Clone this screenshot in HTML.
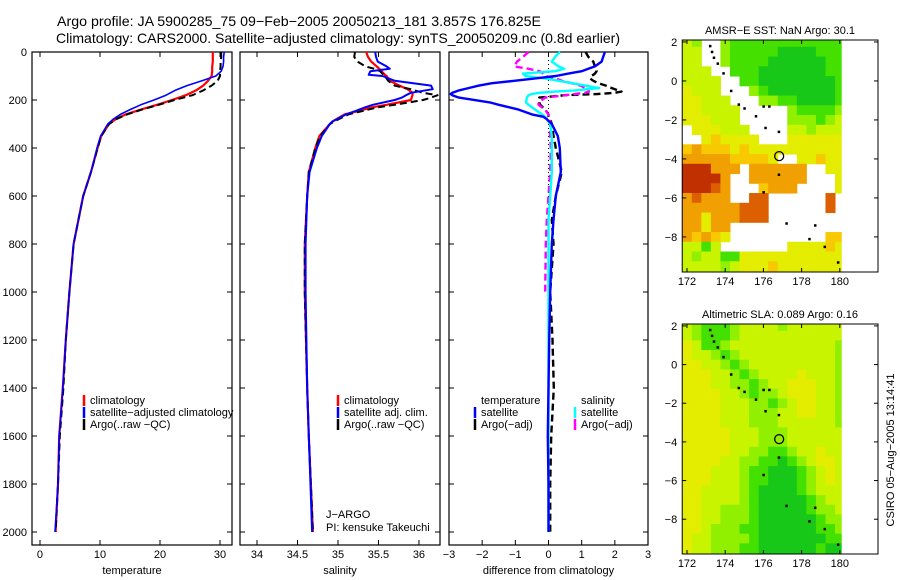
<!DOCTYPE html>
<html><head><meta charset="utf-8">
<style>
html,body{margin:0;padding:0;background:#fff;}
svg{display:block;font-family:"Liberation Sans",sans-serif;}
</style></head>
<body>
<svg id="chart" width="900" height="580" viewBox="0 0 900 580" xmlns="http://www.w3.org/2000/svg">
<rect x="0" y="0" width="900" height="580" fill="#fff"/>
<text x="57" y="26" font-size="14" textLength="484" lengthAdjust="spacingAndGlyphs">Argo profile: JA 5900285_75 09−Feb−2005 20050213_181 3.857S 176.825E</text>
<text x="56" y="43" font-size="14" textLength="564" lengthAdjust="spacingAndGlyphs">Climatology: CARS2000. Satellite−adjusted climatology: synTS_20050209.nc (0.8d earlier)</text>
<g id="panels"></g>
<g id="maps"></g>
<text transform="translate(894,450) rotate(-90)" font-size="11" text-anchor="middle">CSIRO 05−Aug−2005 13:14:41</text>
</svg>
<script>
// ---------- profile data ----------
const depthT = [0,20,40,60,80,100,120,140,160,180,200,220,240,260,280,300,350,400,500,600,700,800,1000,1200,1400,1600,1800,2000];
const tempClim = [28.8,28.8,28.8,28.7,28.7,28.6,28.0,27.2,26.0,24.3,22.0,19.5,16.8,14.3,12.6,11.5,10.2,9.6,8.5,7.2,6.4,5.6,4.9,4.3,3.8,3.2,3.0,2.6];
const tempSat  = [30.7,30.6,30.6,30.5,30.2,29.3,27.0,24.5,22.5,21.0,19.0,16.8,15.0,13.4,12.2,11.3,10.1,9.5,8.5,7.2,6.4,5.6,4.9,4.3,3.8,3.2,3.0,2.5];
const tempArgo = [30.2,30.2,30.1,30.1,30.0,30.0,29.6,28.6,27.2,25.4,22.4,19.8,17.0,14.5,12.7,11.5,10.2,9.6,8.5,7.2,6.4,5.6,4.9,4.3,3.9,3.3,3.0,2.6];

const depthS = [0,20,40,60,70,80,95,100,120,140,155,170,180,190,200,220,230,250,260,290,300,350,400,500,600,800,1000,1400,1600,2000];
const salClim = [35.35,35.37,35.41,35.48,35.51,35.54,35.58,35.6,35.64,35.76,35.86,35.92,35.92,35.91,35.9,35.6,35.43,35.2,35.08,34.93,34.9,34.77,34.72,34.64,34.62,34.59,34.59,34.62,34.64,34.69];
const salSat  = [35.46,35.47,35.49,35.6,35.64,35.4,35.38,35.55,35.7,36.15,36.17,35.9,35.84,35.79,35.7,35.43,35.34,35.18,35.1,34.93,34.9,34.8,34.74,34.65,34.62,34.6,34.6,34.62,34.64,34.68];
const salArgo = [35.21,35.2,35.24,35.34,35.45,35.52,35.56,35.58,35.62,35.7,35.9,36.05,36.23,36.15,36.05,35.7,35.5,35.25,35.13,34.95,34.9,34.78,34.72,34.64,34.62,34.59,34.59,34.62,34.64,34.69];

const depthD = [0,20,40,60,70,80,90,100,110,120,130,140,150,160,165,170,175,180,190,210,220,240,260,270,280,300,350,400,500,600,700,800,1000,1200,1400,1600,1800,2000];
const dTsat  = [1.7,1.65,1.6,1.4,1.2,1.0,0.6,0.22,-0.4,-1.03,-1.7,-2.1,-2.4,-2.7,-2.8,-2.9,-2.95,-2.9,-2.7,-1.77,-1.5,-0.9,-0.5,-0.15,-0.05,0.1,0.28,0.34,0.37,0.22,0.15,0.1,0.05,0.02,0.0,-0.02,0.0,0.0];
const dTargo = [1.12,1.2,1.35,1.4,1.42,1.45,1.4,1.3,1.25,1.35,1.5,1.73,1.9,2.1,2.2,2.0,1.48,0.5,-0.28,-0.28,-0.25,-0.1,0.0,0.0,0.05,0.1,0.15,0.22,0.4,0.22,0.1,0.15,0.05,0.12,0.16,0.08,0.05,0.05];
const dSsat  = [0.35,0.2,0.1,0.3,0.47,0.2,-0.77,-0.7,-0.1,0.3,0.72,1.1,1.53,0.8,0.2,-0.27,-0.5,-0.6,-0.65,-0.68,-0.6,-0.4,-0.2,-0.1,-0.05,0.05,0.1,0.1,0.1,0.05,0.0,0.0,0.0,0.0,0.0,0.0,0.0,0.0];
const dSargo = [-0.6,-0.77,-0.95,-1.03,-0.6,-0.27,-0.15,-0.1,0.22,0.4,0.7,0.97,1.1,1.2,1.22,1.1,0.8,0.5,-0.1,-0.3,-0.3,-0.1,0.0,0.0,0.05,0.05,0.05,0.07,0.05,0.0,-0.05,-0.08,-0.1,null,null,null,null,null];

const depthTicks = [0,200,400,600,800,1000,1200,1400,1600,1800,2000];
const tempTicks = [0,10,20,30];
const salTicks = [34,34.5,35,35.5,36];
const salTickLabels = ["34","34.5","35","35.5","36"];
const diffTicks = [-3,-2,-1,0,1,2,3];
const diffTickLabels = ["−3","−2","−1","0","1","2","3"];

// ---------- map data (0.5 deg cells, rows lat 2.0 → -9.5, cols lon 172.0 → 180.0) ----------
const mapLats = [2,1.5,1,0.5,0,-0.5,-1,-1.5,-2,-2.5,-3,-3.5,-4,-4.5,-5,-5.5,-6,-6.5,-7,-7.5,-8,-8.5,-9,-9.5];
const mapLons = [172,172.5,173,173.5,174,174.5,175,175.5,176,176.5,177,177.5,178,178.5,179,179.5,180];
const sstRows = [
"yl  lGGGGGGGGGGGG","yy  lGGGGGDDDDGGG","yy  lGGGGDDDDDDGG","yyy  GGGDDDDDDDGG",
"yyyy  GGDDDDDDDDG","Yyyy   lGDDDDDDDG","YYyyy   llGGDDDDG","YYyyyy     lGGGGl",
"YYYyyy     lllGly"," YYYyyy    yylyyy","  YoYYYY   YYYYYY","oOoooYoYYYYYYYYYY",
"OOOOOooooY  YYoYY","RRROOO OOOOOO  YY","RRRRO  OOOOOO   Y","RRRrO   oOOO    Y",
"OrOOO  rr      r ","OOOOOOrrr      r ","OOYOOOrrr        ","OOYOO            ",
"OoOoY          oo","yyGy       YYYYoY","ylyyGGYYYYYYYYYYY","yyyylyYYYoYYYYYYY"];
const slaRows = [
"ylGGGlyyyylyyyyyy","ylGGGlyyyyyyyyyyy","YyGGlyyyyyyyyyyyl","YyylGlyyyyyyyyyyl",
"YYyylGlyyyyyyyyyl","YYYyylGlyyyyYyyyl","YYYyyllGlyyYYYyyl","YYYYyylGllyYYYyyl",
"YYYYyyyllGlyYYyyl","YYYYyyylllyyYYyyl","YYYYyyylllyyyyyyl","YYYYYyyylllyyyyyy",
"YYYYYyyylllyyyyyy","YYYYYyyllGGlyyYyy","YYYYyyllGGDGlyYYy","YYYyyylGGDDDGlyYy",
"YYYyyylGGDDDGlyYy","YYyyyylGDDDDGlyyy","YYyyyylGDDDDDGlyy","YYyylllGDDDDDGlly",
"YYyylllGDDDDDDGll","YYylllGGDDDDDDGGl","YyyllllGDDDDDDDGG","YyylllGGDDDDDDGDD"];
const argoLon = 176.825, argoLat = -3.857;
const mapLonTicks = [172,174,176,178,180];
const mapLatTicks = [2,0,-2,-4,-6,-8];
const coastLon = [173.2,173.3,173.4,173.6,173.9,174.3,174.7,175.0,175.6,176.0,176.3,176.8,176.1,176.8,176.0,177.2,178.4,178.7,179.2,179.9];
const coastLat = [1.8,1.5,1.2,0.9,0.4,-0.5,-1.2,-1.4,-1.8,-1.3,-1.3,-2.6,-2.4,-4.8,-5.7,-7.3,-8.1,-7.4,-8.5,-9.3];

const NS = "http://www.w3.org/2000/svg";
function mk(tag, attrs, parent){const e=document.createElementNS(NS,tag);for(const k in attrs)e.setAttribute(k,attrs[k]);parent.appendChild(e);return e;}
const panels = document.getElementById('panels');
const maps = document.getElementById('maps');

const Y0=52, KY=0.24, PB=545, PT=52;
const yD = d => Y0 + d*KY;

const P = [
 {x0:32,x1:232,v0:-1.333,v1:32,ticks:tempTicks,labels:tempTicks.map(String),title:"temperature",name:"temperature"},
 {x0:240,x1:440,v0:33.79,v1:36.26,ticks:salTicks,labels:salTickLabels,title:"salinity",name:"salinity"},
 {x0:449,x1:648,v0:-3,v1:3,ticks:diffTicks,labels:diffTickLabels,title:"difference from climatology",name:"difference"}
];
P.forEach(p=>{p.sx=v=>p.x0+(v-p.v0)/(p.v1-p.v0)*(p.x1-p.x0);});

P.forEach((p,i)=>{
  const g=mk('g',{},panels);
  
  
  const fr=mk('rect',{x:p.x0,y:PT,width:p.x1-p.x0,height:PB-PT,fill:'none',stroke:'#000','stroke-width':1.2},g);
  
  
  depthTicks.forEach(d=>{
    mk('line',{x1:p.x0,x2:p.x0+5,y1:yD(d),y2:yD(d),stroke:'#000'},g);
    mk('line',{x1:p.x1,x2:p.x1-5,y1:yD(d),y2:yD(d),stroke:'#000'},g);
  });
  p.ticks.forEach((t,k)=>{
    const x=p.sx(t);
    mk('line',{x1:x,x2:x,y1:PB,y2:PB-5,stroke:'#000'},g);
    mk('line',{x1:x,x2:x,y1:PT,y2:PT+5,stroke:'#000'},g);
    const tx=mk('text',{x:x,y:558,'font-size':11,'text-anchor':'middle'},g);
    tx.textContent=p.labels[k];
    
    
  });
  const at=mk('text',{x:(p.x0+p.x1)/2,y:574,'font-size':11,'text-anchor':'middle'},g);
  at.textContent=p.title;
  
  
});
depthTicks.forEach(d=>{
  const t=mk('text',{x:27,y:yD(d)+4,'font-size':11,'text-anchor':'end'},panels);
  t.textContent=String(d);
  
  
});

function line(p, depths, vals, color, w, dash, name){
  let d='', pen=false;
  depths.forEach((z,i)=>{
    const v=vals[i];
    if(v===null||v===undefined){pen=false;return;}
    d+=(pen?'L':'M')+p.sx(v).toFixed(1)+','+yD(z).toFixed(1);
    pen=true;
  });
  const a={d:d,fill:'none',stroke:color,'stroke-width':w,'stroke-linejoin':'round'};
  if(dash)a['stroke-dasharray']=dash;
  const e=mk('path',a,panels);
  
  
}
const zl=mk('line',{x1:P[2].sx(0),x2:P[2].sx(0),y1:PT,y2:yD(2000),stroke:'#000','stroke-width':1,'stroke-dasharray':'1,3'},panels);



line(P[0],depthT,tempClim,'#f00',2.2,null,'temperature-climatology-line');
line(P[0],depthT,tempArgo,'#000',2,'7,4','temperature-argo-line');
line(P[0],depthT,tempSat,'#00f',1.6,null,'temperature-satellite-line');
line(P[1],depthS,salClim,'#f00',2.2,null,'salinity-climatology-line');
line(P[1],depthS,salArgo,'#000',2,'7,4','salinity-argo-line');
line(P[1],depthS,salSat,'#00f',2,null,'salinity-satellite-line');
line(P[2],depthD,dTargo,'#000',2.4,'7,4','diff-temperature-argo-line');
line(P[2],depthD,dSargo,'#f0f',2.4,'7,4','diff-salinity-argo-line');
line(P[2],depthD,dSsat,'#0ff',2.4,null,'diff-salinity-satellite-line');
line(P[2],depthD,dTsat,'#00f',2.4,null,'diff-temperature-satellite-line');

function leg(x,y,color,label,name){
  if(color){const m=mk('line',{x1:x,x2:x,y1:y-9,y2:y+2,stroke:color,'stroke-width':2.5},panels);
    
    }
  const t=mk('text',{x:x+6,y:y,'font-size':11},panels);
  t.textContent=label;
  
  
}
leg(84,404,'#f00','climatology','legend-t-climatology');
leg(84,416,'#00f','satellite−adjusted climatology','legend-t-satellite');
leg(84,428,'#000','Argo(..raw −QC)','legend-t-argo');
leg(338,404,'#f00','climatology','legend-s-climatology');
leg(338,416,'#00f','satellite adj. clim.','legend-s-satellite');
leg(338,428,'#000','Argo(..raw −QC)','legend-s-argo');
leg(475,404,null,'temperature','legend-d-temperature-header');
leg(475,416,'#00f','satellite','legend-d-t-satellite');
leg(475,428,'#000','Argo(−adj)','legend-d-t-argo');
leg(575,404,null,'salinity','legend-d-salinity-header');
leg(575,416,'#0ff','satellite','legend-d-s-satellite');
leg(575,428,'#f0f','Argo(−adj)','legend-d-s-argo');
leg(320,518,null,'J−ARGO','float-program-label');
leg(320,531,null,'PI: kensuke Takeuchi','pi-label');

// ---------- maps ----------
const COL={D:'#18c818',G:'#44e000',l:'#90f000',y:'#c8f400',Y:'#e4ec00',o:'#f8c800',O:'#f0a000',r:'#dc6000',R:'#c03000'};
function drawMap(top,bottom,rows,title,name){
  const g=mk('g',{},maps);
  
  
  const lat0=2.1, lat1=-9.8, lonA=171.75;
  const sx=lon=>687+(lon-172)*19.1;
  const sy=lat=>top+(lat0-lat)*(bottom-top)/(lat0-lat1);
  const cp='clip-'+name;
  const cl=mk('clipPath',{id:cp},g);
  mk('rect',{x:sx(lonA),y:top,width:sx(180.1)-sx(lonA),height:bottom-top},cl);
  const cg=mk('g',{'clip-path':'url(#'+cp+')'},g);
  rows.forEach((row,j)=>{
    for(let i=0;i<row.length;i++){
      const c=COL[row[i]]; if(!c)continue;
      const r=mk('rect',{x:sx(mapLons[i]-0.25),y:sy(mapLats[j]+0.25),width:sx(mapLons[i]+0.25)-sx(mapLons[i]-0.25)+0.5,height:sy(mapLats[j]-0.25)-sy(mapLats[j]+0.25)+0.5,fill:c},cg);
      
      
    }
  });
  coastLon.forEach((lo,k)=>{
    const c=mk('rect',{x:sx(lo)-1,y:sy(coastLat[k])-1,width:2.5,height:2.5,fill:'#000'},g);
    
    
  });
  const ci=mk('circle',{cx:sx(argoLon),cy:sy(argoLat),r:4.5,fill:'none',stroke:'#000','stroke-width':1.3},g);
  
  
  const fr=mk('rect',{x:sx(lonA),y:top,width:878-sx(lonA),height:bottom-top,fill:'none',stroke:'#000','stroke-width':1},g);
  
  
  mapLonTicks.forEach(lo=>{
    mk('line',{x1:sx(lo),x2:sx(lo),y1:bottom,y2:bottom-4,stroke:'#000'},g);
    mk('line',{x1:sx(lo),x2:sx(lo),y1:top,y2:top+4,stroke:'#000'},g);
    const t=mk('text',{x:sx(lo),y:bottom+13,'font-size':11,'text-anchor':'middle'},g);
    t.textContent=String(lo);
    
    
  });
  mapLatTicks.forEach(la=>{
    mk('line',{x1:sx(lonA),x2:sx(lonA)+4,y1:sy(la),y2:sy(la),stroke:'#000'},g);
    mk('line',{x1:878,x2:874,y1:sy(la),y2:sy(la),stroke:'#000'},g);
    const t=mk('text',{x:sx(lonA)-5,y:sy(la)+4,'font-size':11,'text-anchor':'end'},g);
    t.textContent=la<0?'−'+(-la):String(la);
    
    
  });
  const tt=mk('text',{x:780,y:top-6,'font-size':11,'text-anchor':'middle'},g);
  tt.textContent=title;
  
  
}
drawMap(40,272,sstRows,'AMSR−E SST: NaN Argo: 30.1','sst-map');
drawMap(324,554,slaRows,'Altimetric SLA: 0.089 Argo: 0.16','sla-map');
</script>
</body></html>
